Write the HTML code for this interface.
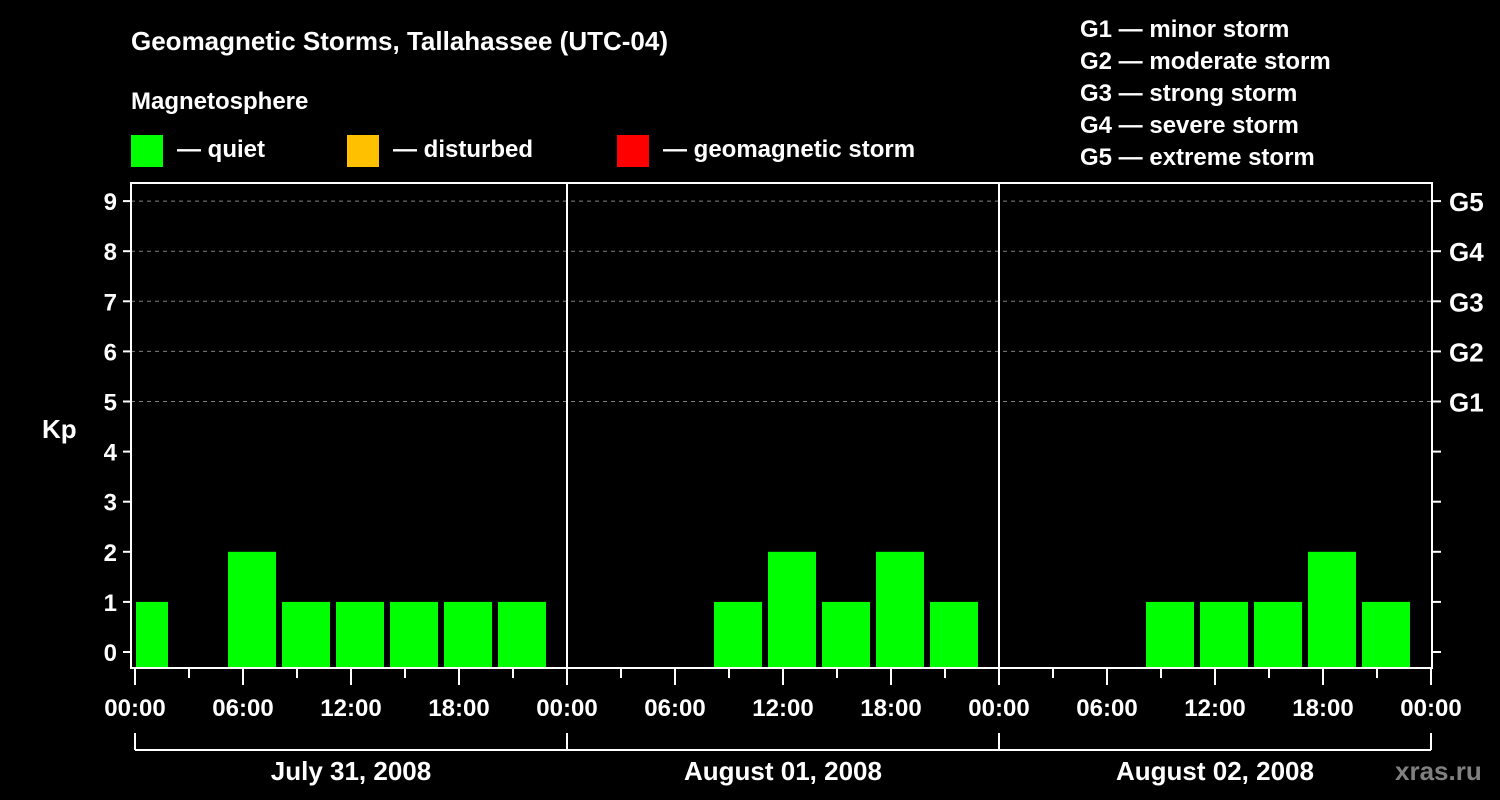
<!DOCTYPE html>
<html><head><meta charset="utf-8"><style>
html,body{margin:0;padding:0;background:#000;width:1500px;height:800px;overflow:hidden}
svg text{font-family:"Liberation Sans",Arial,sans-serif;font-weight:bold;fill:#fff}
</style></head><body>
<svg id="c" width="1500" height="800" xmlns="http://www.w3.org/2000/svg">
<text x="131" y="50" font-size="26">Geomagnetic Storms, Tallahassee (UTC-04)</text>
<text x="131" y="109" font-size="24">Magnetosphere</text>
<g><rect x="131" y="135" width="32" height="32" fill="#00ff00"/><text x="177" y="157" font-size="24">— quiet</text></g>
<g><rect x="347" y="135" width="32" height="32" fill="#ffc000"/><text x="393" y="157" font-size="24">— disturbed</text></g>
<g><rect x="617" y="135" width="32" height="32" fill="#ff0000"/><text x="663" y="157" font-size="24">— geomagnetic storm</text></g>
<g font-size="24">
<text x="1080" y="37">G1 — minor storm</text>
<text x="1080" y="69">G2 — moderate storm</text>
<text x="1080" y="101">G3 — strong storm</text>
<text x="1080" y="133">G4 — severe storm</text>
<text x="1080" y="165">G5 — extreme storm</text>
</g>
<text x="42" y="438" font-size="26">Kp</text>
<text x="1395" y="780" font-size="26" fill="#808080" style="fill:#808080">xras.ru</text>
<g id="grid"></g><g id="bars"></g><g id="axes"></g>
</svg>
<script>
const days = ["July 31, 2008","August 01, 2008","August 02, 2008"];
const day1 = [1,null,2,1,1,1,1,1];
const day2 = [null,null,null,1,2,1,2,1];
const day3 = [null,null,null,1,1,1,2,1];
const yTicks = [0,1,2,3,4,5,6,7,8,9];
const gLabels = ["G1","G2","G3","G4","G5"];
const hourLabels = ["00:00","06:00","12:00","18:00"];
const NS="http://www.w3.org/2000/svg";
const X0=135, DAYW=432, PL=131, PR=1432, PT=183, PB=668;
const xHour = h => X0 + h*DAYW/24;
const yKp = v => 652 - v*50.1;
function el(t,a,p){const e=document.createElementNS(NS,t);for(const k in a)e.setAttribute(k,a[k]);p.appendChild(e);return e;}
const grid=document.getElementById('grid'), bars=document.getElementById('bars'), axes=document.getElementById('axes');
yTicks.forEach(v=>{
  const y=yKp(v);
  if(v>=5){const g=el('line',{x1:PL,x2:PR,y1:y,y2:y,stroke:'#808080','stroke-dasharray':'4,4','stroke-width':1},grid);
  
  }
  el('line',{x1:PL-8,x2:PL,y1:y,y2:y,stroke:'#fff','stroke-width':2},axes);
  el('line',{x1:PR,x2:PR+9,y1:y,y2:y,stroke:'#fff','stroke-width':2},axes);
  const t=el('text',{x:PL-14,y:y+9,'font-size':24,'text-anchor':'end'},axes);t.textContent=v;
  
  
  if(v>=5){const g=el('text',{x:1449,y:y+10,'font-size':26},axes);g.textContent=gLabels[v-5];
  
  }
});
[day1,day2,day3].forEach((arr,d)=>{
  arr.forEach((v,i)=>{
    if(v===null)return;
    let left=xHour(d*24+i*3)-15, right=left+48;
    if(left<PL+5)left=PL+5;
    const r=el('rect',{x:left,y:yKp(v),width:right-left,height:PB-1-yKp(v),fill:v>=5?'#ff0000':(v>=4?'#ffc000':'#00ff00')},bars);
    
    
  });
});
el('rect',{x:PL,y:PT,width:PR-PL,height:PB-PT,fill:'none',stroke:'#fff','stroke-width':2},axes);
[1,2].forEach(d=>el('line',{x1:xHour(d*24),x2:xHour(d*24),y1:PT,y2:PB,stroke:'#fff','stroke-width':2},axes));
for(let k=0;k<=24;k++){
  const x=xHour(k*3), major=k%2===0;
  el('line',{x1:x,x2:x,y1:PB,y2:PB+(major?17:10),stroke:'#fff','stroke-width':2},axes);
  if(major){const t=el('text',{x:x,y:716,'font-size':24,'text-anchor':'middle'},axes);t.textContent=hourLabels[(k/2)%4];
  
  }
}
el('line',{x1:X0,x2:xHour(72),y1:750,y2:750,stroke:'#fff','stroke-width':2},axes);
for(let d=0;d<=3;d++){const x=xHour(d*24);el('line',{x1:x,x2:x,y1:733,y2:750,stroke:'#fff','stroke-width':2},axes);}
days.forEach((s,d)=>{const t=el('text',{x:xHour(d*24+12),y:780,'font-size':26,'text-anchor':'middle'},axes);t.textContent=s;

});
</script>
</body></html>
